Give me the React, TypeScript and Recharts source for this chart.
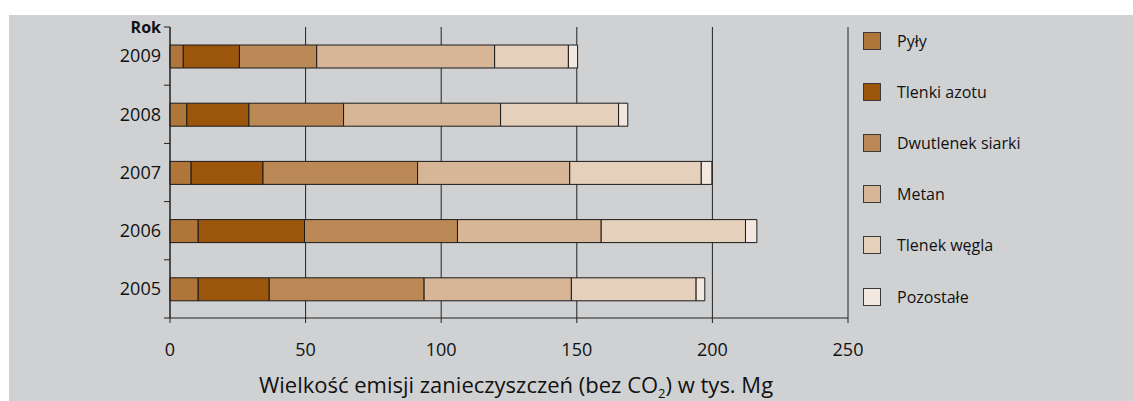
import React from 'react';
import { BarChart, Bar, XAxis, YAxis, CartesianGrid, Legend, Label } from 'recharts';

const years = ['2009', '2008', '2007', '2006', '2005'];
const seriesNames = ['Pyły', 'Tlenki azotu', 'Dwutlenek siarki', 'Metan', 'Tlenek węgla', 'Pozostałe'];
const pyly = [4.9, 6.2, 7.8, 10.4, 10.4];
const tlenkiAzotu = [20.7, 22.9, 26.5, 39.2, 26.2];
const dwutlenekSiarki = [28.5, 34.9, 57.0, 56.4, 57.1];
const metan = [65.6, 57.9, 56.1, 53.0, 54.3];
const tlenekWegla = [27.2, 43.5, 48.5, 53.2, 46.0];
const pozostale = [3.4, 3.4, 3.9, 4.2, 3.2];
const xTicks = [0, 50, 100, 150, 200, 250];
const yAxisTitle = 'Rok';
const xTitleStart = 'Wielkość emisji zanieczyszczeń (bez CO';
const xTitleSub = '2';
const xTitleEnd = ') w tys. Mg';

const colors = ['#B07538', '#9C560C', '#BB8956', '#D6B697', '#E4D0BB', '#F2E8DF'];
const keys = ['s0', 's1', 's2', 's3', 's4', 's5'];
const seriesValues = [pyly, tlenkiAzotu, dwutlenekSiarki, metan, tlenekWegla, pozostale];

const data = years.map((y, i) => {
  const row: any = { year: y };
  keys.forEach((k, j) => {
    row[k] = seriesValues[j][i];
  });
  return row;
});

const FONT = '"Open Sans", sans-serif';
const CHART_W = 1124;
const CHART_H = 386;
const M_TOP = 12;
const XAXIS_H = 83;
const PLOT_H = CHART_H - M_TOP - XAXIS_H;
const BAND = PLOT_H / years.length;
const TICK_SIZE = 6;
const TICK_MARGIN = 3;

const YTick = (props: any) => {
  const { x, y, payload, index } = props;
  const lx1 = x + TICK_MARGIN;
  const lx2 = x + TICK_MARGIN + TICK_SIZE;
  return (
    <g>
      <line x1={lx1} x2={lx2} y1={y - BAND / 2} y2={y - BAND / 2} stroke="#222" strokeWidth={1} />
      {index === years.length - 1 && (
        <line x1={lx1} x2={lx2} y1={y + BAND / 2} y2={y + BAND / 2} stroke="#222" strokeWidth={1} />
      )}
      {index === 0 && (
        <text x={x} y={y - BAND / 2} dy="0.35em" textAnchor="end" fontFamily={FONT} fontSize={16} fontWeight="bold" fill="#111">
          {yAxisTitle}
        </text>
      )}
      <text x={x} y={y} dy="0.35em" textAnchor="end" fontFamily={FONT} fontSize={18} fill="#111">
        {payload.value}
      </text>
    </g>
  );
};

const XTitle = (props: any) => {
  const vb = props.viewBox || {};
  const cx = vb.x + vb.width / 2 + 7;
  const y = vb.y + vb.height - 8;
  return (
    <text x={cx} y={y} textAnchor="middle" fontFamily={FONT} fontSize={22} fill="#111">
      <tspan>{xTitleStart}</tspan>
      <tspan dy={5} fontSize={13}>{xTitleSub}</tspan>
      <tspan dy={-5}>{xTitleEnd}</tspan>
    </text>
  );
};

const LegendContent = () => {
  return (
    <div style={{ fontFamily: FONT, fontSize: 16, color: '#111' }}>
      {seriesNames.map((name, i) => (
        <div key={name} style={{ height: 51.2, display: 'flex', alignItems: 'center' }}>
          <div style={{ width: 16, height: 16, background: colors[i], border: '1px solid #3a3a3a', marginRight: 16 }} />
          <span>{name}</span>
        </div>
      ))}
    </div>
  );
};

export default function App() {
  return (
    <div style={{ position: 'fixed', left: 9, top: 15, right: 0, bottom: 0, background: '#D0D1D3' }}>
      <BarChart
        width={CHART_W}
        height={CHART_H}
        data={data}
        layout="vertical"
        margin={{ top: M_TOP, right: 285, bottom: 0, left: 101 }}
        barSize={23}
      >
        <CartesianGrid horizontal={false} vertical={true} stroke="#222" strokeOpacity={1} />
        <XAxis
          type="number"
          domain={[0, 250]}
          ticks={xTicks}
          interval={0}
          height={XAXIS_H}
          tickSize={5}
          tickMargin={20}
          stroke="#222"
          tick={{ fontFamily: FONT, fontSize: 18, fill: '#111' }}
          axisLine={{ stroke: '#222' }}
          tickLine={{ stroke: '#222' }}
        >
          <Label content={<XTitle />} />
        </XAxis>
        <YAxis
          type="category"
          dataKey="year"
          width={60}
          tickSize={TICK_SIZE}
          tickMargin={TICK_MARGIN}
          tickLine={false}
          axisLine={{ stroke: '#222' }}
          tick={<YTick />}
          interval={0}
        />
        <Legend
          layout="horizontal"
          align="center"
          verticalAlign="middle"
          content={<LegendContent />}
          wrapperStyle={{ position: 'absolute', left: 854, top: 0, width: 260 }}
        />
        {keys.map((k, j) => (
          <Bar
            key={k}
            dataKey={k}
            name={seriesNames[j]}
            stackId="a"
            fill={colors[j]}
            stroke="#1a1a1a"
            strokeWidth={1}
            isAnimationActive={false}
          />
        ))}
      </BarChart>
    </div>
  );
}
